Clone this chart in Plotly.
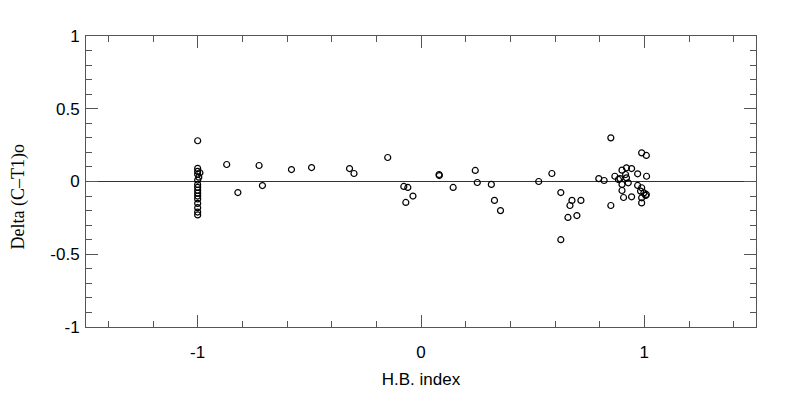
import plotly.graph_objects as go

# H.B. index vs Delta (C-T1)o
hb_index = [
    -1.0, -1.0, -1.0, -1.0, -0.995, -1.0, -1.0, -1.0, -1.0, -1.0,
    -1.0, -1.0, -1.0, -1.0, -1.0, -0.99, -1.0,
    -0.87, -0.82, -0.725, -0.71, -0.58, -0.49, -0.32, -0.30, -0.149,
    -0.077, -0.059, -0.068, -0.036, 0.081, 0.082, 0.144, 0.243, 0.252,
    0.315, 0.329, 0.356,
    0.527, 0.586, 0.626, 0.626, 0.658, 0.676, 0.667, 0.698, 0.716,
    0.85, 0.85, 0.988, 1.009, 0.796, 0.82, 0.868, 0.884, 0.891,
    0.90, 0.92, 0.943, 0.97, 1.01, 0.916, 0.92, 0.928, 0.90, 0.90,
    0.907, 0.943, 0.97, 0.988, 0.983, 0.998, 1.006, 0.988, 1.009, 0.988,
]
delta_ct1 = [
    0.28, 0.09, 0.07, 0.05, 0.03, 0.01, -0.02, -0.04, -0.06, -0.08,
    -0.10, -0.12, -0.15, -0.18, -0.21, 0.06, -0.23,
    0.117, -0.076, 0.11, -0.028, 0.082, 0.096, 0.089, 0.055, 0.165,
    -0.034, -0.041, -0.144, -0.10, 0.048, 0.041, -0.041, 0.076, -0.007,
    -0.02, -0.13, -0.20,
    0.0, 0.055, -0.076, -0.40, -0.247, -0.13, -0.165, -0.234, -0.13,
    0.30, -0.165, 0.197, 0.179, 0.02, 0.007, 0.036, 0.014, 0.02,
    0.078, 0.094, 0.089, 0.053, 0.036, 0.048, 0.025, -0.009, -0.02, -0.062,
    -0.11, -0.105, -0.027, -0.043, -0.066, -0.078, -0.096, -0.112, -0.089, -0.147,
]

x_ticks = [-1, 0, 1]
y_ticks = [-1, -0.5, 0, 0.5, 1]
y_ticklabels = ["-1", "-0.5", "0", "0.5", "1"]

axis_color = "#555555"
sans = "Liberation Sans Narrow, Liberation Sans, Arial, sans-serif"

fig = go.Figure()
fig.add_trace(go.Scatter(
    x=hb_index,
    y=delta_ct1,
    mode="markers",
    marker=dict(symbol="circle-open", size=6, color="black", line=dict(width=1.2)),
    showlegend=False,
))

# y title as an annotation so it sits a bit below centre like the original
fig.add_annotation(
    text="Delta (C–T1)o",
    xref="paper", yref="paper", x=0, y=0.447,
    xshift=-80, textangle=-90, showarrow=False,
    font=dict(family="Liberation Serif, DejaVu Serif, serif", size=18, color="black"),
)

fig.update_layout(
    width=791,
    height=405,
    plot_bgcolor="white",
    paper_bgcolor="white",
    margin=dict(l=78, r=43, t=28, b=86),
    font=dict(family=sans, size=17, color="black"),
    xaxis=dict(
        range=[-1.5, 1.5],
        tickvals=x_ticks,
        ticktext=[str(v) for v in x_ticks],
        ticks="inside", ticklen=12, tickwidth=1, tickcolor=axis_color,
        minor=dict(dtick=0.2, tick0=0, ticks="inside", ticklen=6, tickcolor=axis_color),
        showline=True, linecolor=axis_color, linewidth=1, mirror="allticks",
        showgrid=False, zeroline=False, automargin=False,
        ticklabelstandoff=10,
        title=dict(text="H.B. index", font=dict(family=sans, size=17), standoff=11),
    ),
    yaxis=dict(
        range=[-1, 1],
        tickvals=y_ticks,
        ticktext=y_ticklabels,
        ticks="inside", ticklen=12, tickwidth=1, tickcolor=axis_color,
        minor=dict(dtick=0.1, tick0=0, ticks="inside", ticklen=6, tickcolor=axis_color),
        showline=True, linecolor=axis_color, linewidth=1, mirror="allticks",
        showgrid=False, automargin=False,
        zeroline=True, zerolinecolor="#333333", zerolinewidth=1,
        ticklabelstandoff=2,
    ),
)

fig.write_html("out.html")
